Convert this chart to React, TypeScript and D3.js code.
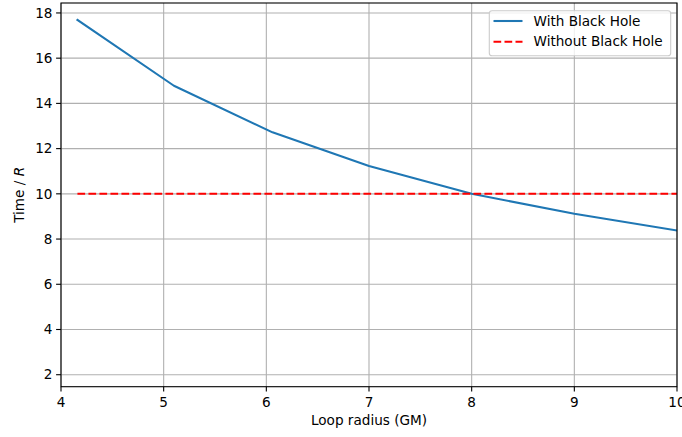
import React from "react";
import * as d3 from "d3";

const radius = [4.16, 5.1, 6.06, 7.0, 8.0, 9.0, 10.0];
const timeWithBH = [17.69, 14.78, 12.72, 11.23, 10.0, 9.12, 8.38];
const timeWithoutBH = [10, 10, 10, 10, 10, 10, 10];
const xTicks = [4, 5, 6, 7, 8, 9, 10];
const yTicks = [2, 4, 6, 8, 10, 12, 14, 16, 18];
const legendLabels = ["With Black Hole", "Without Black Hole"];

const W = 682, H = 437;
const L = 61, R = 677, T = 3, B = 386.7;
const FONT = "DejaVu Sans, sans-serif";
const FS = 13.6;

export default function App() {
  const x = d3.scaleLinear().domain([4, 10]).range([L, R]);
  const y = d3.scaleLinear().domain([1.47, 18.44]).range([B, T]);
  const blueData = radius.map((r, i) => [r, timeWithBH[i]] as [number, number]);
  const redData = radius.map((r, i) => [r, timeWithoutBH[i]] as [number, number]);
  const line = d3.line<[number, number]>().x(d => x(d[0])).y(d => y(d[1]));
  return (
    <svg width={W} height={H} style={{ position: "absolute", left: 0, top: 0, background: "#fff" }} fontFamily={FONT}>
      <defs>
        <clipPath id="plot"><rect x={L} y={T} width={R - L} height={B - T} /></clipPath>
      </defs>
      <rect x={0} y={0} width={W} height={H} fill="#fff" />
      {xTicks.map(t => (
        <line key={"gx" + t} x1={x(t)} x2={x(t)} y1={T} y2={B} stroke="#b0b0b0" strokeWidth={1.1} />
      ))}
      {yTicks.map(t => (
        <line key={"gy" + t} x1={L} x2={R} y1={y(t)} y2={y(t)} stroke="#b0b0b0" strokeWidth={1.1} />
      ))}
      <g clipPath="url(#plot)">
        <path d={line(blueData) || ""} fill="none" stroke="#1f77b4" strokeWidth={2.08} strokeLinejoin="round" strokeLinecap="square" />
        <path d={line(redData) || ""} fill="none" stroke="#ff0000" strokeWidth={2.08} strokeDasharray="7.7,3.3" />
      </g>
      <rect x={L} y={T} width={R - L} height={B - T} fill="none" stroke="#000" strokeWidth={1.1} />
      {xTicks.map(t => (
        <g key={"tx" + t}>
          <line x1={x(t)} x2={x(t)} y1={B} y2={B + 4.9} stroke="#000" strokeWidth={1.1} />
          <text x={x(t)} y={B + 20.5} textAnchor="middle" fontSize={FS} fill="#000">{t}</text>
        </g>
      ))}
      {yTicks.map(t => (
        <g key={"ty" + t}>
          <line x1={L - 4.9} x2={L} y1={y(t)} y2={y(t)} stroke="#000" strokeWidth={1.1} />
          <text x={L - 8.5} y={y(t)} dy="0.35em" textAnchor="end" fontSize={FS} fill="#000">{t}</text>
        </g>
      ))}
      <text x={(L + R) / 2} y={425} textAnchor="middle" fontSize={FS} fill="#000">Loop radius (GM)</text>
      <text transform={`translate(24,${(T + B) / 2}) rotate(-90)`} textAnchor="middle" fontSize={FS} fill="#000">
        Time / <tspan fontStyle="italic">R</tspan>
      </text>
      <g>
        <rect x={489.3} y={10.7} width={181.4} height={45} rx={2.8} fill="#fff" fillOpacity={0.8} stroke="#cccccc" strokeWidth={1.1} />
        {legendLabels.map((lab, i) => (
          <g key={lab}>
            <line x1={493.5} x2={522.5} y1={21 + i * 20.7} y2={21 + i * 20.7}
              stroke={i === 0 ? "#1f77b4" : "#ff0000"} strokeWidth={2.08}
              strokeDasharray={i === 0 ? undefined : "7.7,3.3"} />
            <text x={533.5} y={21 + i * 20.7} dy="0.35em" fontSize={FS} fill="#000">{lab}</text>
          </g>
        ))}
      </g>
    </svg>
  );
}
